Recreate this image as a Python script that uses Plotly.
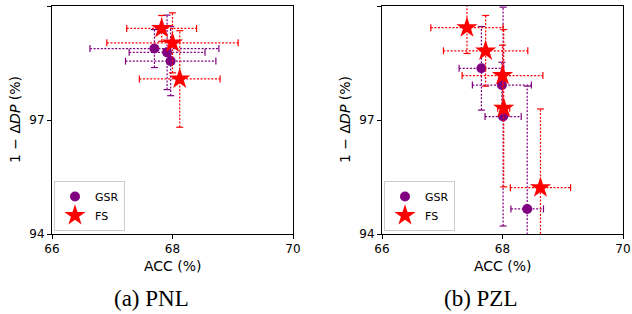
import plotly.graph_objects as go

# ---------------- data ----------------
# (a) PNL
pnl_gsr_acc = [67.70, 67.91, 67.97]
pnl_gsr_acc_err = [1.07, 0.63, 0.75]
pnl_gsr_fair = [98.88, 98.78, 98.55]
pnl_gsr_fair_err = [0.50, 0.98, 0.91]
pnl_fs_acc = [67.82, 68.00, 68.12]
pnl_fs_acc_err = [0.58, 1.09, 0.67]
pnl_fs_fair = [99.41, 99.03, 98.08]
pnl_fs_fair_err = [0.34, 0.79, 1.27]

# (b) PZL
pzl_gsr_acc = [67.65, 67.99, 68.01, 68.41]
pzl_gsr_acc_err = [0.37, 0.49, 0.30, 0.27]
pzl_gsr_fair = [98.36, 97.92, 97.09, 94.66]
pzl_gsr_fair_err = [1.10, 0.60, 2.88, 3.23]
pzl_fs_acc = [67.41, 67.72, 68.00, 68.02, 68.63]
pzl_fs_acc_err = [0.60, 0.70, 0.67, 0.10, 0.50]
pzl_fs_fair = [99.43, 98.82, 98.17, 97.31, 95.22]
pzl_fs_fair_err = [0.68, 0.93, 0.80, 2.07, 2.07]

x_ticks = [66, 68, 70]
y_ticks = [94, 97, 100]
captions = ["(a) PNL", "(b) PZL"]
x_label = "ACC (%)"
y_label = "1 − Δ<i>DP</i> (%)"

GSR_C = "#800080"
FS_C = "#ff0000"

fig = go.Figure()

DASH = "2px,1.6px"


def add_errbars(xs, xe, ys, ye, color, xa, ya):
    hx, hy, vx, vy = [], [], [], []
    cx, cy, cvx, cvy = [], [], [], []
    for x, dx, y, dy in zip(xs, xe, ys, ye):
        hx += [x - dx, x + dx, None]
        hy += [y, y, None]
        vx += [x, x, None]
        vy += [y - dy, y + dy, None]
        cx += [x - dx, x + dx]
        cy += [y, y]
        cvx += [x, x]
        cvy += [y - dy, y + dy]
    for X, Y in ((hx, hy), (vx, vy)):
        fig.add_trace(go.Scatter(x=X, y=Y, mode="lines", line=dict(color=color, width=1.2, dash=DASH),
                                 showlegend=False, hoverinfo="skip", xaxis=xa, yaxis=ya))
    fig.add_trace(go.Scatter(x=cx, y=cy, mode="markers", cliponaxis=True,
                             marker=dict(symbol="line-ns", size=5, line=dict(color=color, width=1.2)),
                             showlegend=False, hoverinfo="skip", xaxis=xa, yaxis=ya))
    fig.add_trace(go.Scatter(x=cvx, y=cvy, mode="markers", cliponaxis=True,
                             marker=dict(symbol="line-ew", size=5, line=dict(color=color, width=1.2)),
                             showlegend=False, hoverinfo="skip", xaxis=xa, yaxis=ya))


panels = [
    (pnl_gsr_acc, pnl_gsr_acc_err, pnl_gsr_fair, pnl_gsr_fair_err,
     pnl_fs_acc, pnl_fs_acc_err, pnl_fs_fair, pnl_fs_fair_err, "x", "y", "legend"),
    (pzl_gsr_acc, pzl_gsr_acc_err, pzl_gsr_fair, pzl_gsr_fair_err,
     pzl_fs_acc, pzl_fs_acc_err, pzl_fs_fair, pzl_fs_fair_err, "x2", "y2", "legend2"),
]

for (ga, gae, gf, gfe, fa, fae, ff, ffe, xa, ya, leg) in panels:
    add_errbars(ga, gae, gf, gfe, GSR_C, xa, ya)
    fig.add_trace(go.Scatter(x=ga, y=gf, mode="markers", name="GSR",
                             marker=dict(symbol="circle", size=10, color=GSR_C),
                             showlegend=True, legend=leg, xaxis=xa, yaxis=ya))
    add_errbars(fa, fae, ff, ffe, FS_C, xa, ya)
    fig.add_trace(go.Scatter(x=fa, y=ff, mode="markers", name="FS",
                             marker=dict(symbol="star", size=16, color=FS_C),
                             showlegend=True, legend=leg, xaxis=xa, yaxis=ya))

ax_common = dict(showline=True, linecolor="black", linewidth=1, mirror=True, automargin=False,
                 ticks="outside", ticklen=4, tickcolor="black", showgrid=False, zeroline=False,
                 tickfont=dict(family="DejaVu Sans", size=12, color="black"))

xd1 = [52 / 632, 293 / 632]
xd2 = [382 / 632, 623 / 632]
yd = [1 - 234 / 314, 1 - 6 / 314]

leg_common = dict(y=1 - 231 / 314, xanchor="left", yanchor="bottom",
                  bordercolor="#cccccc", borderwidth=1, bgcolor="rgba(255,255,255,0.8)",
                  font=dict(family="DejaVu Sans", size=11, color="black"),
                  itemsizing="trace", tracegroupgap=0, itemwidth=30)

fig.update_layout(
    width=632, height=314,
    margin=dict(l=0, r=0, t=0, b=0),
    paper_bgcolor="white", plot_bgcolor="white",
    xaxis=dict(domain=xd1, range=[66, 70], tickvals=x_ticks, anchor="y", **ax_common),
    yaxis=dict(domain=yd, range=[94, 100], tickvals=y_ticks, anchor="x", **ax_common),
    xaxis2=dict(domain=xd2, range=[66, 70], tickvals=x_ticks, anchor="y2", **ax_common),
    yaxis2=dict(domain=yd, range=[94, 100], tickvals=y_ticks, anchor="x2", **ax_common),
    legend=dict(x=54 / 632, **leg_common),
    legend2=dict(x=384 / 632, **leg_common),
    showlegend=True,
)

title_font = dict(family="DejaVu Sans", size=14, color="black")
for xc, ylab_x in ((172.5, 15), (502.5, 345)):
    fig.add_annotation(text=x_label, x=xc / 632, y=1 - 266 / 314, xref="paper", yref="paper",
                       showarrow=False, xanchor="center", yanchor="middle", font=title_font)
    fig.add_annotation(text=y_label, x=ylab_x / 632, y=1 - 120 / 314, xref="paper", yref="paper",
                       showarrow=False, xanchor="center", yanchor="middle", textangle=-90, font=title_font)

for cap, cx in zip(captions, (151, 481)):
    fig.add_annotation(text=cap, x=cx / 632, y=1 - 298 / 314, xref="paper", yref="paper",
                       showarrow=False, xanchor="center", yanchor="middle",
                       font=dict(family="Liberation Serif", size=23, color="black"))

fig.write_html("out.html", config={"displayModeBar": False},
               post_script="document.body.style.margin='0';document.body.style.overflow='hidden';")
